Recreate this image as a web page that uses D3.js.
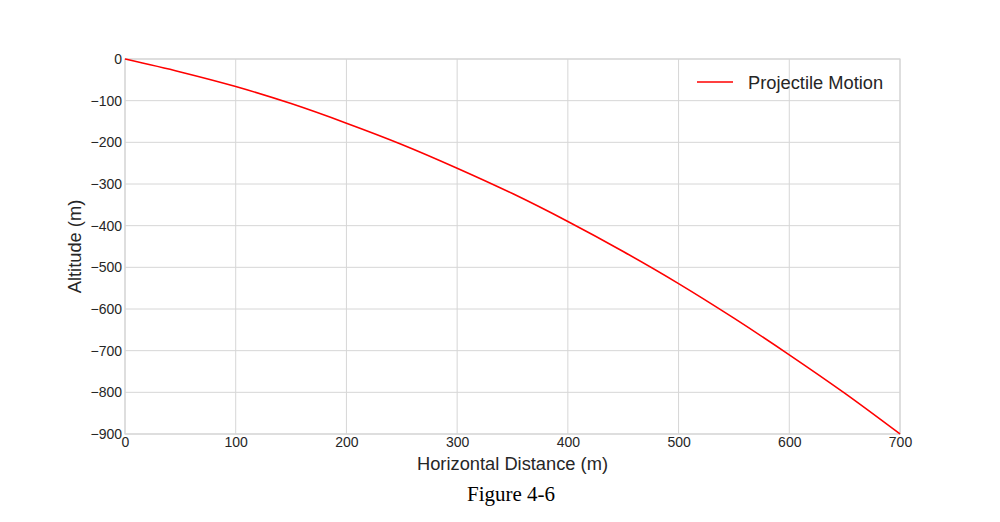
<!DOCTYPE html>
<html><head><meta charset="utf-8">
<script src="https://cdn.jsdelivr.net/npm/d3@7"></script>
<style>body{margin:0;background:#fff;} svg{display:block;}</style>
</head><body>
<svg id="chart" width="1000" height="522"></svg>
<script>
const distance = [0,50,100,150,200,250,300,350,400,450,500,550,600,650,700];
const altitude = [0,-31,-66,-107,-154,-205,-262,-323,-390,-462,-539,-622,-710,-802,-900];
const xTicks = [0,100,200,300,400,500,600,700];
const yTicks = [0,-100,-200,-300,-400,-500,-600,-700,-800,-900];
const seriesName = "Projectile Motion";
const caption = "Figure 4-6";

const svg = d3.select("#chart");
const m = {l:125, r:900, t:59, b:434};
const x = d3.scaleLinear().domain([0,700]).range([m.l,m.r]);
const y = d3.scaleLinear().domain([-900,0]).range([m.b,m.t]);
const font = "Liberation Sans, Arial, sans-serif";
const grid = "#d6d6d6";

// grid
svg.append("g").selectAll("line").data(xTicks).join("line")
  .attr("x1",d=>x(d)).attr("x2",d=>x(d)).attr("y1",m.t).attr("y2",m.b)
  .attr("stroke",grid).attr("stroke-width",1);
svg.append("g").selectAll("line").data(yTicks).join("line")
  .attr("y1",d=>y(d)).attr("y2",d=>y(d)).attr("x1",m.l).attr("x2",m.r)
  .attr("stroke",grid).attr("stroke-width",1);
svg.append("rect").attr("x",m.l).attr("y",m.t).attr("width",m.r-m.l).attr("height",m.b-m.t)
  .attr("fill","none").attr("stroke",grid).attr("stroke-width",1.2);

const fmt = d => d<0 ? "\u2212"+Math.abs(d) : String(d);
// axes
const xAxis = svg.append("g").attr("transform",`translate(0,${m.b})`)
  .call(d3.axisBottom(x).tickValues(xTicks).tickSize(0).tickPadding(3).tickFormat(fmt));
const yAxis = svg.append("g").attr("transform",`translate(${m.l},0)`)
  .call(d3.axisLeft(y).tickValues(yTicks).tickSize(0).tickPadding(3).tickFormat(fmt));
[xAxis,yAxis].forEach(a=>{
  a.select(".domain").remove();
  a.selectAll("text").attr("font-family",font).attr("font-size",14).attr("fill","#262626");
});

// line
const line = d3.line().x((d,i)=>x(distance[i])).y(d=>y(d)).curve(d3.curveMonotoneX);
svg.append("path").datum(altitude).attr("d",line)
  .attr("fill","none").attr("stroke","#ff0000").attr("stroke-width",1.6);

// labels
svg.append("text").attr("x",(m.l+m.r)/2).attr("y",470).attr("text-anchor","middle")
  .attr("font-family",font).attr("font-size",18.3).attr("fill","#262626").text("Horizontal Distance (m)");
svg.append("text").attr("transform",`translate(81,${(m.t+m.b)/2}) rotate(-90)`).attr("text-anchor","middle")
  .attr("font-family",font).attr("font-size",18.3).attr("fill","#262626").text("Altitude (m)");

// legend
svg.append("line").attr("x1",697).attr("x2",733).attr("y1",82).attr("y2",82)
  .attr("stroke","#ff0000").attr("stroke-width",1.6);
svg.append("text").attr("x",748).attr("y",88.5).attr("font-family",font).attr("font-size",18.3)
  .attr("fill","#262626").text(seriesName);

// caption
svg.append("text").attr("x",511).attr("y",501).attr("text-anchor","middle")
  .attr("font-family","Liberation Serif, Times New Roman, serif").attr("font-size",21)
  .attr("fill","#000").text(caption);
</script>
</body></html>
